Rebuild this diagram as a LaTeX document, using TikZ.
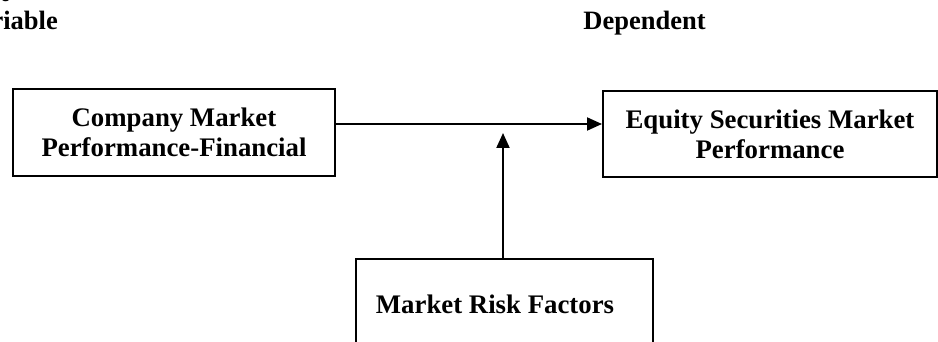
\documentclass[tikz,border=0pt]{standalone}
\usepackage{fontspec}
\setmainfont{Liberation Serif}
\usetikzlibrary{arrows.meta}
\begin{document}
\begin{tikzpicture}[x=1pt,y=-1pt,
  box/.style={draw,line width=2pt,align=center,inner sep=0pt,font=\bfseries\fontsize{26.8}{30}\selectfont},
  lbl/.style={inner sep=0pt,font=\bfseries\fontsize{26.5}{28}\selectfont},
  arr/.style={line width=2pt,-{Triangle[length=15pt,width=13pt]}}]
\useasboundingbox (0,0) rectangle (938,342);
\node[box,minimum width=322pt,minimum height=87pt] (left) at (174,132.5) {Company Market\\Performance-Financial};
\node[box,minimum width=334pt,minimum height=86pt] (right) at (770,134) {Equity Securities Market\\Performance};
\node[box,minimum width=297pt,minimum height=90pt,anchor=north west] (risk) at (355,258) {Market Risk Factors\hspace*{19pt}};
\node[lbl,anchor=base east] (indep1) at (9,2) {Independent};
\node[lbl,anchor=base east] (indep2) at (58,30) {Variable};
\node[lbl,anchor=base] (dep) at (644.5,30) {Dependent};
\coordinate (tip) at (503,133);
\draw[arr] (left.east |- 0,124) -- (right.west |- 0,124);
\draw[arr] (risk.north -| tip) -- (tip);
\end{tikzpicture}
\end{document}
